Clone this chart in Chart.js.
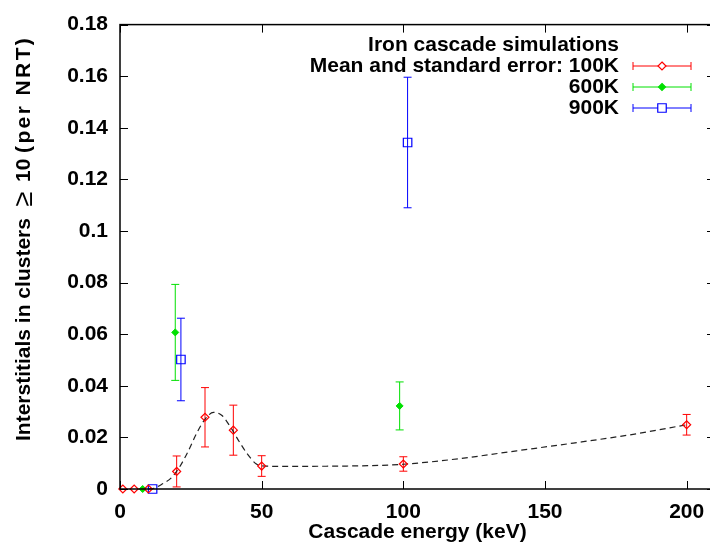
<!DOCTYPE html>
<html>
<head>
<meta charset="utf-8">
<script src="https://cdn.jsdelivr.net/npm/chart.js@4/dist/chart.umd.min.js"></script>
<style>
html,body{margin:0;padding:0;background:#fff;overflow:hidden;width:710px;height:551px;}
canvas{display:block;}
</style>
</head>
<body>
<canvas id="c" width="725" height="551"></canvas>
<script>
// ---- data ----
const E_100K   = [1, 5, 10, 20, 30, 40, 50, 100, 200];
const V_100K   = [0, 0, 0, 0.0068, 0.0278, 0.0228, 0.0089, 0.0097, 0.0249];
const ERR_100K = [0, 0, 0, 0.006, 0.0115, 0.0097, 0.004, 0.0028, 0.004];

const E_600K   = [8, 19.5, 98.7];
const V_600K   = [0, 0.0607, 0.0322];
const ERR_600K = [0, 0.0186, 0.0093];

const E_900K   = [11.5, 21.5, 101.5];
const V_900K   = [0, 0.0502, 0.1343];
const ERR_900K = [0, 0.016, 0.0253];

const FIT_E = [10, 12, 15, 18, 21, 24, 27, 30, 33, 36, 39, 42, 45, 48, 50, 55, 60, 80, 100, 120, 140, 160, 180, 200];
const FIT_V = [0, 0.0003, 0.002, 0.0042, 0.0085, 0.0145, 0.0215, 0.027, 0.0297, 0.0285, 0.024, 0.0185, 0.0135, 0.0098, 0.009, 0.0088, 0.0088, 0.0089, 0.0096, 0.0118, 0.0148, 0.0178, 0.021, 0.0249];

const X_TICKS = [0, 50, 100, 150, 200];
const Y_TICKS = [0, 0.02, 0.04, 0.06, 0.08, 0.1, 0.12, 0.14, 0.16, 0.18];
const Y_TICK_LABELS = ['0', '0.02', '0.04', '0.06', '0.08', '0.1', '0.12', '0.14', '0.16', '0.18'];

const LEGEND_TITLE = ['Iron cascade simulations', 'Mean and standard error: 100K', '600K', '900K'];
const SERIES_NAMES = ['100K', '600K', '900K'];
const X_TITLE = 'Cascade energy (keV)';
const Y_TITLE_PARTS = ['Interstitials in clusters', '\u2265', '10', '(per NRT)'];

const FONT = '"Liberation Sans", Arial, Helvetica, sans-serif';
const RED = '#ff0000', GREEN = '#00e000', BLUE = '#0000ff';

function pts(xs, ys, es) { return xs.map((x, i) => ({x: x, y: ys[i], e: es ? es[i] : 0})); }

function marker(ctx, style, r, x, y, color, filled) {
  ctx.save();
  ctx.strokeStyle = color;
  ctx.fillStyle = filled ? color : '#fff';
  ctx.lineWidth = 1.2;
  ctx.beginPath();
  if (style === 'rect') {
    const s = r * Math.SQRT1_2;
    ctx.rect(x - s, y - s, 2 * s, 2 * s);
  } else {
    ctx.moveTo(x, y - r); ctx.lineTo(x + r, y); ctx.lineTo(x, y + r); ctx.lineTo(x - r, y); ctx.closePath();
  }
  ctx.fill();
  ctx.stroke();
  ctx.restore();
}

const errorBars = {
  id: 'errorBars',
  beforeDatasetsDraw(chart) {
    const {ctx, scales: {x, y}} = chart;
    ctx.save();
    chart.data.datasets.forEach(ds => {
      if (!ds.errorBars) return;
      ctx.strokeStyle = ds.borderColor;
      ctx.lineWidth = 1;
      ds.data.forEach(p => {
        if (!p.e) return;
        const px = x.getPixelForValue(p.x);
        const y1 = y.getPixelForValue(p.y + p.e);
        const y2 = y.getPixelForValue(p.y - p.e);
        ctx.beginPath();
        ctx.moveTo(px, y1); ctx.lineTo(px, y2);
        ctx.moveTo(px - 4, y1); ctx.lineTo(px + 4, y1);
        ctx.moveTo(px - 4, y2); ctx.lineTo(px + 4, y2);
        ctx.stroke();
      });
    });
    ctx.restore();
  },
  afterDraw(chart) {
    const {ctx, chartArea: a, scales: {x, y}} = chart;
    ctx.save();
    // border
    ctx.strokeStyle = '#000';
    ctx.lineWidth = 1.5;
    ctx.strokeRect(a.left, a.top, a.right - a.left, a.bottom - a.top);
    // inward ticks
    ctx.lineWidth = 1;
    ctx.beginPath();
    X_TICKS.forEach(v => {
      const px = Math.round(x.getPixelForValue(v)) + 0.5;
      ctx.moveTo(px, a.bottom); ctx.lineTo(px, a.bottom - 8);
      ctx.moveTo(px, a.top); ctx.lineTo(px, a.top + 8);
    });
    Y_TICKS.forEach(v => {
      const py = Math.round(y.getPixelForValue(v)) + 0.5;
      ctx.moveTo(a.left, py); ctx.lineTo(a.left + 8, py);
      ctx.moveTo(a.right, py); ctx.lineTo(a.right - 8, py);
    });
    ctx.stroke();

    // y axis title (rotated), pieces placed along the axis
    ctx.save();
    ctx.translate(24, 0);
    ctx.rotate(-Math.PI / 2);
    ctx.fillStyle = '#000';
    ctx.textBaseline = 'middle';
    ctx.textAlign = 'left';
    ctx.font = 'bold 21px ' + FONT;
    ctx.fillText(Y_TITLE_PARTS[0], -441, 0);
    ctx.font = '27px ' + FONT;
    ctx.textAlign = 'center';
    ctx.fillText(Y_TITLE_PARTS[1], -199, 1);
    ctx.font = 'bold 21px ' + FONT;
    ctx.textAlign = 'left';
    ctx.fillText(Y_TITLE_PARTS[2], -182, 0);
    ctx.letterSpacing = '2.4px';
    ctx.fillText(Y_TITLE_PARTS[3], -153, 0);
    ctx.restore();

    // legend
    ctx.fillStyle = '#000';
    ctx.font = 'bold 21px ' + FONT;
    ctx.textAlign = 'right';
    ctx.textBaseline = 'middle';
    const rows = [45, 66, 87, 108];
    LEGEND_TITLE.forEach((t, i) => ctx.fillText(t, 619, rows[i]));
    const cols = [RED, GREEN, BLUE];
    const styles = ['rectRot', 'rectRot', 'rect'];
    const fills = [false, true, false];
    const radii = [4, 3.5, 6];
    for (let i = 0; i < 3; i++) {
      const yy = rows[i + 1];
      ctx.strokeStyle = cols[i];
      ctx.lineWidth = 1;
      ctx.beginPath();
      ctx.moveTo(633, yy); ctx.lineTo(691, yy);
      ctx.moveTo(633, yy - 4); ctx.lineTo(633, yy + 4);
      ctx.moveTo(691, yy - 4); ctx.lineTo(691, yy + 4);
      ctx.stroke();
      marker(ctx, styles[i], radii[i], 662, yy, cols[i], fills[i]);
    }
    ctx.restore();
  }
};

const chart = new Chart(document.getElementById('c'), {
  type: 'scatter',
  data: {
    datasets: [
      {
        label: 'fit', type: 'line', data: pts(FIT_E, FIT_V),
        borderColor: '#222', borderWidth: 1.2, borderDash: [6, 4],
        pointRadius: 0, cubicInterpolationMode: 'monotone', fill: false, clip: false, order: 4
      },
      {
        label: SERIES_NAMES[0], data: pts(E_100K, V_100K, ERR_100K), errorBars: true,
        borderColor: RED, backgroundColor: 'rgba(255,255,255,0)', pointStyle: 'rectRot',
        pointRadius: 4, pointBorderWidth: 1.2, clip: false, order: 1
      },
      {
        label: SERIES_NAMES[1], data: pts(E_600K, V_600K, ERR_600K), errorBars: true,
        borderColor: GREEN, backgroundColor: GREEN, pointStyle: 'rectRot',
        pointRadius: 3.5, pointBorderWidth: 1, clip: false, order: 2
      },
      {
        label: SERIES_NAMES[2], data: pts(E_900K, V_900K, ERR_900K), errorBars: true,
        borderColor: BLUE, backgroundColor: 'rgba(255,255,255,0)', pointStyle: 'rect',
        pointRadius: 6, pointBorderWidth: 1.2, clip: false, order: 3
      }
    ]
  },
  options: {
    responsive: false,
    animation: false,
    devicePixelRatio: 1,
    layout: {padding: {left: 0, top: 24, right: 10, bottom: 0}},
    plugins: {legend: {display: false}, title: {display: false}, tooltip: {enabled: false}},
    scales: {
      x: {
        type: 'linear', min: 0, max: 210,
        afterFit(s) { s.height = 62; },
        afterBuildTicks(s) { s.ticks = X_TICKS.map(v => ({value: v})); },
        grid: {display: false, drawTicks: false},
        border: {display: false},
        ticks: {color: '#000', padding: 11, font: {family: FONT, size: 21, weight: 'bold'}, maxRotation: 0, callback: v => String(v)},
        title: {display: true, text: X_TITLE, color: '#000', font: {family: FONT, size: 21, weight: 'bold'}, padding: {top: 0, bottom: 6}}
      },
      y: {
        type: 'linear', min: 0, max: 0.18,
        afterFit(s) { s.width = 120; },
        afterBuildTicks(s) { s.ticks = Y_TICKS.map(v => ({value: v})); },
        grid: {display: false, drawTicks: false},
        border: {display: false},
        ticks: {color: '#000', padding: 12, font: {family: FONT, size: 21, weight: 'bold'},
          callback: (v, i) => Y_TICK_LABELS[i]},
        title: {display: false}
      }
    }
  },
  plugins: [errorBars]
});
</script>
</body>
</html>
